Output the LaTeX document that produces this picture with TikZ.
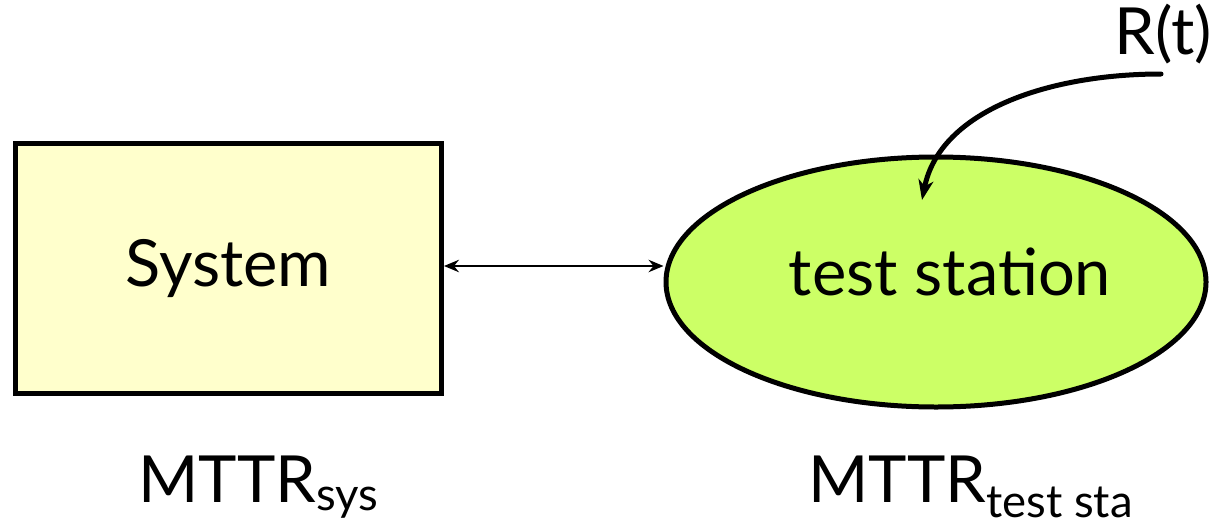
\documentclass[tikz,border=0pt]{standalone}
\usepackage{fontspec}
\setmainfont{Lato}
\usetikzlibrary{arrows.meta,shapes.geometric}
\definecolor{sysfill}{HTML}{FFFFCC}
\definecolor{stafill}{HTML}{CCFF66}
\tikzset{
  big/.style={font=\fontsize{37}{40}\selectfont, inner sep=0pt},
  box/.style={draw, line width=0.1cm, fill=sysfill},
  oval/.style={draw, line width=0.1cm, fill=stafill},
  conn/.style={line width=0.035cm, {Stealth[length=0.3cm,width=0.25cm,inset=0.1cm]}-{Stealth[length=0.3cm,width=0.25cm,inset=0.1cm]}},
  curved/.style={line width=0.1cm, line cap=round, -{Stealth[length=0.4cm,width=0.3cm,inset=0.12cm]}}
}
\begin{document}
\begin{tikzpicture}[x=0.02cm,y=-0.02cm]
\useasboundingbox (0,0) rectangle (1212,527);
\node[box, minimum width=426*0.02cm, minimum height=250*0.02cm, anchor=north west] (sys) at (13,141) {};
\node[big] (systxt) at (sys.center) {System};
\node[oval, ellipse, minimum width=540*0.02cm, minimum height=250*0.02cm] (sta) at (936,282) {};
\node[big] (statxt) at (950,272) {test station};
\draw[conn] (sys.east |- 0,266) -- (sta.west |- 0,266);
\node[big, anchor=base west] (r) at (1114,55) {R(t)};
\coordinate (rs) at (1161,74);
\coordinate (rt) at (922,200);
\draw[curved] (rs) .. controls (1050,74) and (940,110) .. (rt);
\node[big, anchor=base west] (m1) at (138,502) {MTTR\textsubscript{sys}};
\node[big, anchor=base west] (m2) at (808,502) {MTTR\textsubscript{test sta}};
\end{tikzpicture}
\end{document}
